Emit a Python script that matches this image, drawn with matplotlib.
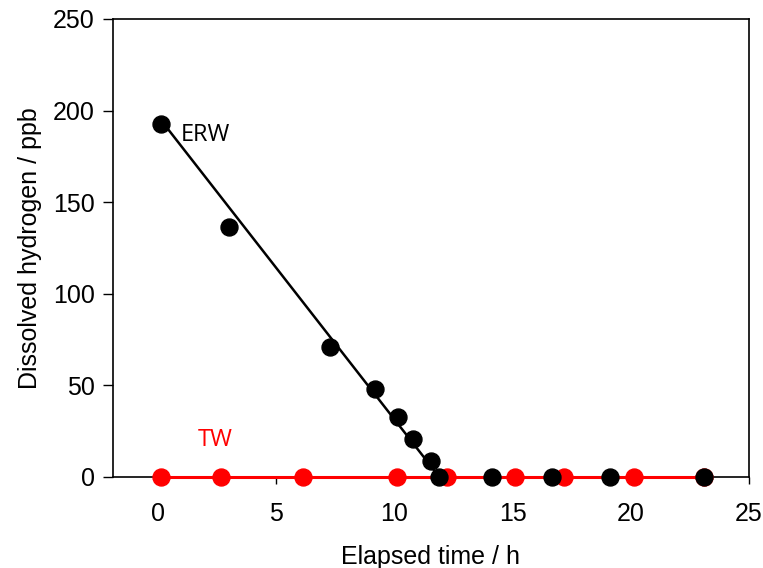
import matplotlib
matplotlib.use('Agg')
import matplotlib.pyplot as plt

# ERW (electrolysed reduced water) - black
erw_time = [0.11, 3.02, 7.26, 9.17, 10.14, 10.79, 11.55, 11.9, 14.14, 16.65, 19.12, 23.1]
erw_h2 = [192.7, 136.6, 70.8, 48.0, 32.6, 20.6, 8.9, 0.0, 0.0, 0.0, 0.0, 0.0]

# linear decay line drawn over ERW points
fit_time = [0.11, 11.9]
fit_h2 = [195.0, 0.0]

# TW (tap water) - red
tw_time = [0.13, 2.66, 6.13, 10.11, 12.23, 15.1, 17.17, 20.15, 23.1]
tw_h2 = [0, 0, 0, 0, 0, 0, 0, 0, 0]

xticks = [0, 5, 10, 15, 20, 25]
yticks = [0, 50, 100, 150, 200, 250]

plt.rcParams['font.family'] = ['Liberation Sans', 'DejaVu Sans']

fig = plt.figure(figsize=(7.63, 5.68), dpi=100)
ax = fig.add_axes([112.7/763, 1 - 477/568, (749 - 112.7)/763, (477 - 19)/568])

ax.plot(tw_time, tw_h2, color='red', lw=2.2, marker='o', ms=12.2, mec='red', mfc='red', zorder=3, clip_on=False)
ax.plot(fit_time, fit_h2, color='black', lw=1.8, zorder=4)
ax.plot(erw_time, erw_h2, ls='none', marker='o', ms=12.2, color='black', zorder=5, clip_on=False)

ax.text(0.95, 186.7, 'ERW', fontsize=17, family=['Open Sans', 'DejaVu Sans'], va='center', ha='left')
ax.text(1.68, 20.2, 'TW', fontsize=17, family=['Open Sans', 'DejaVu Sans'], color='red', va='center', ha='left')

ax.set_xlim(-1.92, 25)
ax.set_ylim(0, 250)
ax.set_xticks(xticks)
ax.set_yticks(yticks)
ax.tick_params(axis='x', direction='out', length=5, width=1, labelsize=18, pad=13)
ax.tick_params(axis='y', direction='out', length=7, width=1, labelsize=18, pad=6)
for s in ax.spines.values():
    s.set_linewidth(1.2)

ax.set_xlabel('Elapsed time / h', fontsize=18, labelpad=14)
ax.set_ylabel('Dissolved hydrogen / ppb', fontsize=18, labelpad=8)

fig.savefig('out.png', dpi=100)
